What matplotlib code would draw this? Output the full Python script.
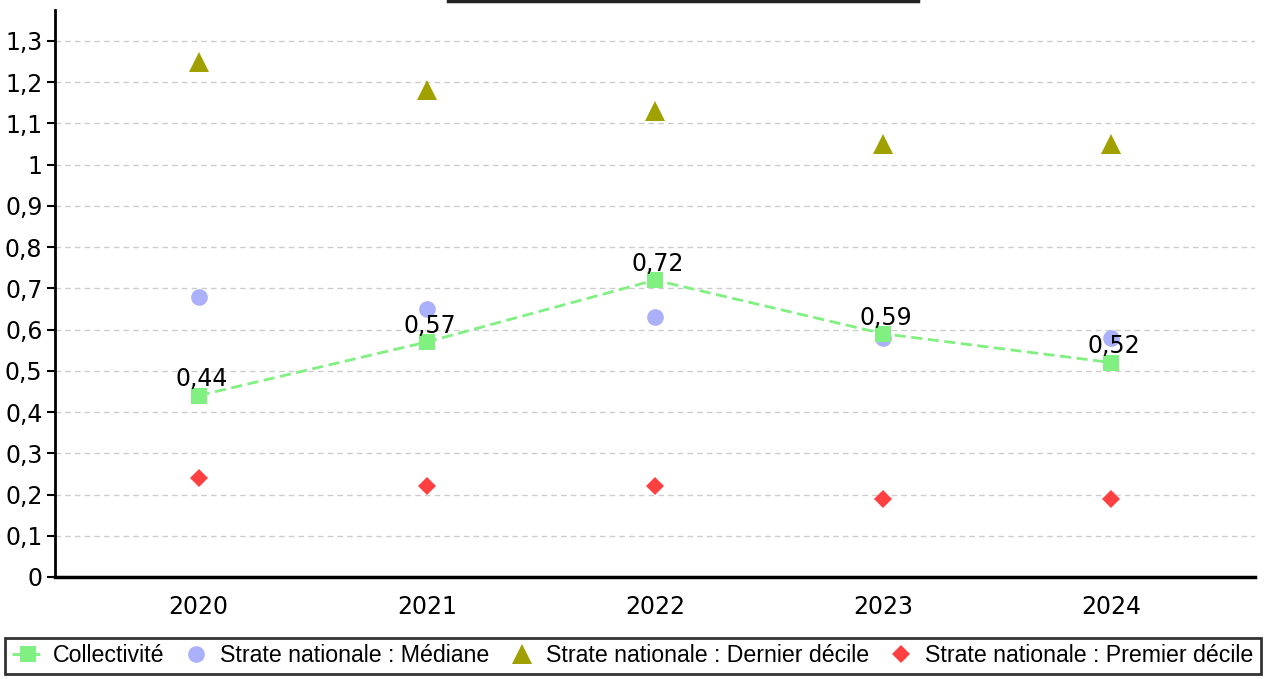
import matplotlib
matplotlib.use("Agg")
import matplotlib.pyplot as plt
from matplotlib.lines import Line2D
from matplotlib.ticker import FuncFormatter, MultipleLocator

# Ratio par année : collectivité vs strate nationale
annees = ["2020", "2021", "2022", "2023", "2024"]
collectivite = [0.44, 0.57, 0.72, 0.59, 0.52]
mediane = [0.68, 0.65, 0.63, 0.58, 0.58]
dernier_decile = [1.25, 1.18, 1.13, 1.05, 1.05]
premier_decile = [0.24, 0.22, 0.22, 0.19, 0.19]


def virgule(v, _pos=None):
    txt = f"{v:.2f}".rstrip("0").rstrip(".")
    return txt.replace(".", ",")


fig = plt.figure(figsize=(12.66, 6.79), dpi=100)
ax = fig.add_axes([55 / 1266, 1 - 577 / 679, 1200 / 1266, 567 / 679])

x = list(range(len(annees)))

ax.plot(x, collectivite, color="#80f080", linestyle=(0, (4, 2)), linewidth=2,
        marker="s", markersize=11, markeredgewidth=0, label="Collectivité", zorder=3)
ax.plot(x, mediane, linestyle="none", marker="o", markersize=12, color="#aab0fa",
        markeredgewidth=0, label="Strate nationale : Médiane", zorder=2)
ax.plot(x, dernier_decile, linestyle="none", marker="^", markersize=14, color="#a0a000",
        markeredgewidth=0, label="Strate nationale : Dernier décile", zorder=2)
ax.plot(x, premier_decile, linestyle="none", marker="D", markersize=9, color="#ff4040",
        markeredgewidth=0, label="Strate nationale : Premier décile", zorder=2)

for xi, v in zip(x, collectivite):
    ax.annotate(virgule(v), (xi, v), xytext=(2, 3), textcoords="offset points",
                ha="center", va="bottom", fontsize=17, color="black", zorder=5)

ax.set_xlim(-0.63, 4.63)
ax.set_ylim(0, 1.375)
ax.set_xticks(x)
ax.set_xticklabels(annees)
ax.yaxis.set_major_locator(MultipleLocator(0.1))
ax.yaxis.set_major_formatter(FuncFormatter(virgule))
ax.tick_params(axis="x", length=0, pad=13, labelsize=17)
ax.tick_params(axis="y", length=6, width=1.5, pad=3, labelsize=17)

ax.grid(axis="y", color="#cccccc", linestyle=(0, (4, 3)), linewidth=1)
ax.set_axisbelow(True)
for side in ["top", "right"]:
    ax.spines[side].set_visible(False)
ax.spines["left"].set_linewidth(2)
ax.spines["bottom"].set_linewidth(2.5)

# trait de titre en haut
fig.add_artist(Line2D([448 / 1266, 918 / 1266], [1 - 1 / 679, 1 - 1 / 679],
                      color="#222222", linewidth=2.5, transform=fig.transFigure))

leg = fig.legend(loc="center", bbox_to_anchor=(0.5, 1 - 656 / 679), ncol=4,
                 frameon=True, fancybox=False, handlelength=1.38, handletextpad=0.35,
                 columnspacing=0.7, borderpad=0.3, borderaxespad=0,
                 prop={"family": "Liberation Sans", "size": 16.7})
leg.get_frame().set_edgecolor("black")
leg.get_frame().set_linewidth(2)

fig.savefig("out.png", dpi=100)
